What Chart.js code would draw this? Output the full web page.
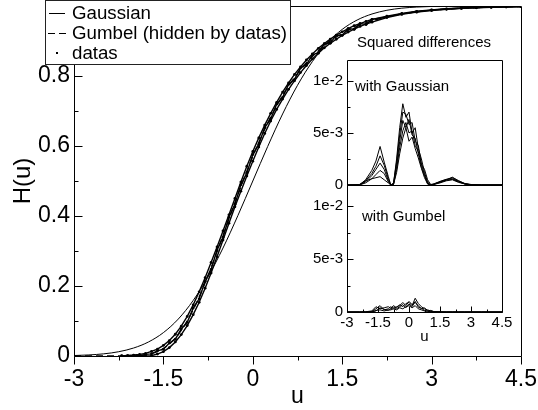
<!DOCTYPE html>
<html>
<head>
<meta charset="utf-8">
<title>H(u)</title>
<script src="https://cdn.jsdelivr.net/npm/chart.js@4.4.1/dist/chart.umd.min.js"></script>
<style>
  body { margin: 0; background: #fff; }
  #wrap { position: relative; width: 538px; height: 410px; overflow: hidden; font-family: "Liberation Sans", Arial, sans-serif; color: #000; }
  #wrap canvas { position: absolute; }
  #legend { position: absolute; left: 45px; top: 0; width: 246px; height: 65px; box-sizing: border-box; border: 1px solid #222; background: #fff; font-size: 18.7px; }
  .row { position: absolute; left: 0; height: 20px; line-height: 20px; white-space: nowrap; }
  .sw { position: absolute; top: 10px; height: 1px; }
  .txt { position: absolute; left: 26px; top: 0; }
  .note { position: absolute; font-size: 15px; line-height: 18px; white-space: nowrap; }
</style>
</head>
<body>
<div id="wrap">
  <canvas id="main" width="538" height="410" style="left:0;top:0"></canvas>
  <canvas id="insetTop" width="215" height="145" style="left:300px;top:50px"></canvas>
  <canvas id="insetBot" width="215" height="175" style="left:300px;top:175px"></canvas>
  <div id="legend"></div>
  <div class="note" id="noteTitle" style="left:357px;top:33px"></div>
  <div class="note" id="noteGauss" style="left:355px;top:77px"></div>
  <div class="note" id="noteGumbel" style="left:362px;top:207px"></div>
</div>
<script>
Chart.defaults.font.family = "'Liberation Sans', Arial, sans-serif";
Chart.defaults.color = "#000";

// names
const seriesNames = ["Gaussian", "Gumbel (hidden by datas)", "datas"];
const insetTitle = "Squared differences";
const panelNames = ["with Gaussian", "with Gumbel"];

// main plot ticks
const mainXTicks = [-3, -1.5, 0, 1.5, 3, 4.5];
const mainXLabels = ["-3", "-1.5", "0", "1.5", "3", "4.5"];
const mainXMinor = [-2.25, -0.75, 0.75, 2.25, 3.75];
const mainYTicks = [0, 0.2, 0.4, 0.6, 0.8, 1];
const mainYLabels = ["0", "0.2", "0.4", "0.6", "0.8", "1"];
const mainYMinor = [0.1, 0.3, 0.5, 0.7, 0.9];

// inset ticks (values in units of 1e-3)
const insetYTicks = [0, 5, 10];
const insetYLabels = ["0", "5e-3", "1e-2"];
const insetYMinor = [2.5, 7.5];

// fitted curves
const curveU = [-3, -2.75, -2.5, -2.25, -2, -1.75, -1.5, -1.25, -1, -0.75, -0.5, -0.25, 0, 0.25, 0.5, 0.75,
  1, 1.25, 1.5, 1.75, 2, 2.25, 2.5, 2.75, 3, 3.25, 3.5, 3.75, 4, 4.25, 4.5];
const gaussH = [0.0013, 0.0030, 0.0062, 0.0122, 0.0228, 0.0401, 0.0668, 0.1056, 0.1587, 0.2266, 0.3085, 0.4013,
  0.5, 0.5987, 0.6915, 0.7734, 0.8413, 0.8944, 0.9332, 0.9599, 0.9772, 0.9878, 0.9938, 0.9970, 0.9987, 0.9994,
  0.9998, 0.9999, 1, 1, 1];
const gumbelH = [0, 0, 0, 0.0001, 0.0007, 0.0050, 0.0214, 0.0614, 0.1321, 0.2302, 0.3444, 0.4613, 0.5704, 0.6654,
  0.7440, 0.8069, 0.8558, 0.8932, 0.9213, 0.9422, 0.9577, 0.9691, 0.9775, 0.9836, 0.9881, 0.9913, 0.9937,
  0.9954, 0.9967, 0.9976, 0.9983];

// data band (three runs)
const dataU = [-2.2, -2.1, -2.0, -1.9, -1.8, -1.7, -1.6, -1.5, -1.4, -1.3, -1.2, -1.1, -1.0, -0.9, -0.8, -0.7,
  -0.6, -0.5, -0.4, -0.3, -0.2, -0.1, 0, 0.1, 0.2, 0.3, 0.4, 0.5, 0.6, 0.7, 0.8, 0.9, 1.0, 1.1, 1.2, 1.3, 1.4,
  1.5, 1.6, 1.7, 1.8, 1.9, 2.0, 2.25, 2.5, 2.75, 3.0, 3.25, 3.5, 3.75, 4.0, 4.25, 4.5];
const dataA = [0.0001, 0.0013, 0.0027, 0.0046, 0.0075, 0.0130, 0.0196, 0.0304, 0.0440, 0.0621, 0.0851, 0.1131,
  0.1461, 0.1835, 0.2238, 0.2671, 0.3116, 0.3574, 0.4035, 0.4503, 0.4970, 0.5422, 0.5844, 0.6232, 0.6597,
  0.6934, 0.7245, 0.7540, 0.7800, 0.8045, 0.8257, 0.8458, 0.8628, 0.8790, 0.8925, 0.9054, 0.9170, 0.9263,
  0.9354, 0.9436, 0.9497, 0.9561, 0.9617, 0.9711, 0.9790, 0.9848, 0.9890, 0.9920, 0.9942, 0.9958, 0.9970,
  0.9979, 0.9985];
const dataB = [0.0001, 0, 0, 0, 0, 0.0010, 0.0056, 0.0124, 0.0240, 0.0401, 0.0611, 0.0871, 0.1181, 0.1535,
  0.1938, 0.2371, 0.2836, 0.3314, 0.3795, 0.4263, 0.4710, 0.5142, 0.5564, 0.5972, 0.6357, 0.6714, 0.7045,
  0.7340, 0.7620, 0.7865, 0.8097, 0.8298, 0.8488, 0.8650, 0.8805, 0.8934, 0.9050, 0.9163, 0.9254, 0.9336,
  0.9417, 0.9481, 0.9537, 0.9671, 0.9760, 0.9824, 0.9872, 0.9906, 0.9932, 0.9950, 0.9964, 0.9973, 0.9981];
const dataC = [0.0001, 0.0003, 0.0011, 0.0012, 0.0045, 0.0060, 0.0146, 0.0194, 0.0370, 0.0481, 0.0771, 0.0961,
  0.1371, 0.1635, 0.2138, 0.2471, 0.3026, 0.3394, 0.3965, 0.4333, 0.4890, 0.5232, 0.5754, 0.6052, 0.6527,
  0.6774, 0.7195, 0.7390, 0.7760, 0.7905, 0.8227, 0.8328, 0.8608, 0.8670, 0.8915, 0.8944, 0.9160, 0.9163,
  0.9354, 0.9336, 0.9497, 0.9471, 0.9617, 0.9691, 0.9775, 0.9836, 0.9881, 0.9913, 0.9937, 0.9954, 0.9967,
  0.9976, 0.9983];

// squared differences, units of 1e-3
const insetU = [-3, -2.4, -2.1, -1.8, -1.6, -1.4, -1.2, -1.0, -0.88, -0.75, -0.6, -0.45, -0.3, -0.15, 0, 0.15,
  0.3, 0.45, 0.6, 0.75, 0.9, 1.05, 1.2, 1.5, 1.8, 2.1, 2.4, 2.7, 3.0, 3.5, 4.5];
const sqGauss1 = [0, 0, 0.5, 1.4, 2.3, 3.7, 2.2, 0.8, 0, 0.1, 2.5, 5.5, 7.8, 6.5, 7.0, 5.0, 5.5, 3.5, 2.5, 1.2,
  0.3, 0, 0.05, 0.3, 0.5, 0.7, 0.4, 0.15, 0.05, 0, 0];
const sqGauss2 = [0, 0, 0.4, 1.1, 1.8, 2.8, 1.9, 0.6, 0, 0.2, 2.2, 4.8, 7.0, 6.8, 5.8, 6.0, 4.2, 3.8, 2.0, 1.5,
  0.5, 0.05, 0.1, 0.35, 0.55, 0.6, 0.35, 0.1, 0.03, 0, 0];
const sqGauss3 = [0, 0, 0.3, 0.9, 1.5, 2.1, 1.5, 0.4, 0, 0.1, 1.8, 4.2, 6.2, 5.5, 6.3, 4.8, 4.5, 3.0, 1.7, 0.9,
  0.2, 0, 0.1, 0.3, 0.5, 0.75, 0.4, 0.12, 0.03, 0, 0];
const sqGauss4 = [0, 0, 0.2, 0.6, 1.0, 1.4, 1.1, 0.3, 0, 0.05, 1.5, 3.6, 5.2, 6.0, 5.0, 5.2, 3.8, 3.2, 2.0, 1.0,
  0.1, 0, 0.08, 0.25, 0.45, 0.55, 0.3, 0.1, 0, 0, 0];
const sqGauss5 = [0, 0.05, 0.4, 0.6, 0.7, 0.8, 0.5, 0.2, 0, 0.05, 1.2, 3.0, 4.5, 5.5, 4.2, 4.6, 3.5, 2.6, 1.6,
  0.7, 0.1, 0, 0.05, 0.2, 0.4, 0.5, 0.25, 0.1, 0, 0, 0];
const sqGumbel1 = [0, 0, 0.02, 0.1, 0.5, 0.3, 0.4, 0.5, 0.35, 0.6, 0.4, 0.7, 0.5, 0.8, 0.9, 0.6, 1.3, 0.8, 0.5,
  0.3, 0.2, 0.1, 0.05, 0.02, 0, 0, 0, 0, 0, 0, 0];
const sqGumbel2 = [0, 0, 0, 0.05, 0.3, 0.6, 0.2, 0.3, 0.5, 0.3, 0.5, 0.6, 0.9, 0.6, 1.0, 0.7, 0.9, 0.6, 0.3, 0.4,
  0.1, 0.15, 0.03, 0, 0, 0, 0, 0, 0, 0, 0];
const sqGumbel3 = [0, 0, 0, 0, 0.15, 0.2, 0.1, 0.2, 0.2, 0.3, 0.2, 0.4, 0.3, 0.5, 0.6, 0.4, 0.6, 0.3, 0.2, 0.1,
  0.05, 0.05, 0, 0, 0, 0, 0, 0, 0, 0, 0];
const sqGumbel4 = [0, 0, 0, 0.02, 0.1, 0.4, 0.25, 0.15, 0.3, 0.45, 0.3, 0.5, 0.7, 0.4, 0.75, 0.5, 1.0, 0.45, 0.35,
  0.15, 0.1, 0.05, 0.02, 0, 0, 0, 0, 0, 0, 0, 0];

const xy = (xs, ys) => xs.map((x, i) => ({ x, y: ys[i] }));

// FRAME + TICK MARKS
const frameTicks = {
  id: "frameTicks",
  afterDatasetsDraw(chart, args, o) {
    const { ctx, chartArea: a, scales } = chart;
    const L = Math.round(a.left) + 0.5, T = Math.round(a.top) + 0.5;
    const R = Math.round(a.right) + 0.5, B = Math.round(a.bottom) + 0.5;
    ctx.save();
    ctx.strokeStyle = "#000";
    ctx.lineWidth = 1;
    ctx.beginPath();
    ctx.rect(L, T, R - L, B - T);
    if (o.x) {
      [[o.x.major, o.len], [o.x.minor, o.minorLen]].forEach(([vals, len]) => vals.forEach(v => {
        const px = Math.round(scales.x.getPixelForValue(v)) + 0.5;
        ctx.moveTo(px, B);
        ctx.lineTo(px, B + len * o.x.dir);
      }));
    }
    if (o.y) {
      [[o.y.major, o.len], [o.y.minor, o.minorLen]].forEach(([vals, len]) => vals.forEach(v => {
        const py = Math.round(scales.y.getPixelForValue(v)) + 0.5;
        ctx.moveTo(L, py);
        ctx.lineTo(L + len, py);
      }));
    }
    ctx.stroke();
    ctx.restore();
  }
};

const noPad = s => { s.paddingLeft = 0; s.paddingRight = 0; s.paddingTop = 0; s.paddingBottom = 0; };

// MAIN CHART
const dataStyle = { borderColor: "#000", borderWidth: 1.4, pointRadius: 1.4, pointBorderWidth: 0,
  pointBackgroundColor: "#000", tension: 0 };

new Chart(document.getElementById("main"), {
  type: "line",
  data: {
    datasets: [
      { label: seriesNames[2], data: xy(dataU, dataA), ...dataStyle },
      { label: seriesNames[2], data: xy(dataU, dataB), ...dataStyle },
      { label: seriesNames[2], data: xy(dataU, dataC), ...dataStyle },
      { label: seriesNames[0], data: xy(curveU, gaussH), borderColor: "#000", borderWidth: 1, pointRadius: 0,
        cubicInterpolationMode: "monotone" },
      { label: seriesNames[1], data: xy(curveU, gumbelH), borderColor: "#000", borderWidth: 1.3, borderDash: [7, 4],
        pointRadius: 0, cubicInterpolationMode: "monotone" }
    ]
  },
  options: {
    responsive: false,
    animation: false,
    layout: { padding: { top: 6, right: 17, left: 0, bottom: 0 } },
    plugins: {
      legend: { display: false },
      tooltip: { enabled: false },
      frameTicks: {
        x: { major: mainXTicks, minor: mainXMinor, dir: 1 },
        y: { major: mainYTicks, minor: mainYMinor },
        len: 8, minorLen: 4
      }
    },
    scales: {
      x: {
        type: "linear", min: -3, max: 4.5,
        grid: { display: false, drawTicks: false }, border: { display: false },
        afterBuildTicks: s => { s.ticks = mainXTicks.map(v => ({ value: v })); },
        afterFit: s => { s.height = 54; noPad(s); },
        ticks: { callback: (v, i) => mainXLabels[i], font: { size: 23 }, padding: 10, maxRotation: 0, autoSkip: false },
        title: { display: true, text: "u", font: { size: 23 }, padding: { top: 0, bottom: 0 } }
      },
      y: {
        type: "linear", min: 0, max: 1,
        grid: { display: false, drawTicks: false }, border: { display: false },
        afterBuildTicks: s => { s.ticks = mainYTicks.map(v => ({ value: v })); },
        afterFit: s => { s.width = 74; noPad(s); },
        ticks: { callback: (v, i) => mainYLabels[i], font: { size: 23 }, padding: 4, autoSkip: false },
        title: { display: true, text: "H(u)", font: { size: 24 }, padding: { top: 9, bottom: 0 } }
      }
    }
  },
  plugins: [frameTicks]
});

// INSETS
function insetChart(id, series, showX, pad) {
  return new Chart(document.getElementById(id), {
    type: "line",
    data: {
      datasets: series.map(ys => ({ data: xy(insetU, ys), borderColor: "#000", borderWidth: 1, pointRadius: 0, tension: 0 }))
    },
    options: {
      responsive: false,
      animation: false,
      layout: { padding: pad },
      plugins: {
        legend: { display: false },
        tooltip: { enabled: false },
        frameTicks: {
          x: showX ? { major: mainXTicks, minor: mainXMinor, dir: -1 } : null,
          y: { major: insetYTicks, minor: insetYMinor },
          len: 6, minorLen: 3
        }
      },
      scales: {
        x: {
          type: "linear", min: -3, max: 4.5, display: showX,
          grid: { display: false, drawTicks: false }, border: { display: false },
          afterBuildTicks: s => { s.ticks = mainXTicks.map(v => ({ value: v })); },
          afterFit: s => { s.height = showX ? 38 : 0; noPad(s); },
          ticks: { callback: (v, i) => mainXLabels[i], font: { size: 15 }, padding: 2, maxRotation: 0, autoSkip: false },
          title: { display: true, text: "u", font: { size: 15 }, padding: { top: 0, bottom: 4 } }
        },
        y: {
          type: "linear", min: 0, max: 12,
          grid: { display: false, drawTicks: false }, border: { display: false },
          afterBuildTicks: s => { s.ticks = insetYTicks.map(v => ({ value: v })); },
          afterFit: s => { s.width = 47; noPad(s); },
          ticks: { callback: (v, i) => insetYLabels[i], font: { size: 15 }, padding: 4, autoSkip: false }
        }
      }
    },
    plugins: [frameTicks]
  });
}

insetChart("insetTop", [sqGauss1, sqGauss2, sqGauss3, sqGauss4, sqGauss5], false,
  { top: 10, right: 13, left: 0, bottom: 10 });
insetChart("insetBot", [sqGumbel1, sqGumbel2, sqGumbel3, sqGumbel4], true,
  { top: 10, right: 13, left: 0, bottom: 0 });

// LEGEND + NOTES
const swatches = [
  '<span class="sw" style="left:3px;width:16px;background:#000"></span>',
  '<span class="sw" style="left:2px;width:18px;background:repeating-linear-gradient(90deg,#000 0 7px,transparent 7px 11px)"></span>',
  '<span class="sw" style="left:10px;top:9px;width:2px;height:2px;background:#000"></span>'
];
document.getElementById("legend").innerHTML = seriesNames.map((name, i) =>
  `<div class="row" style="top:${2 + i * 20}px">${swatches[i]}<span class="txt">${name}</span></div>`
).join("");
document.getElementById("noteTitle").textContent = insetTitle;
document.getElementById("noteGauss").textContent = panelNames[0];
document.getElementById("noteGumbel").textContent = panelNames[1];
</script>
</body>
</html>
